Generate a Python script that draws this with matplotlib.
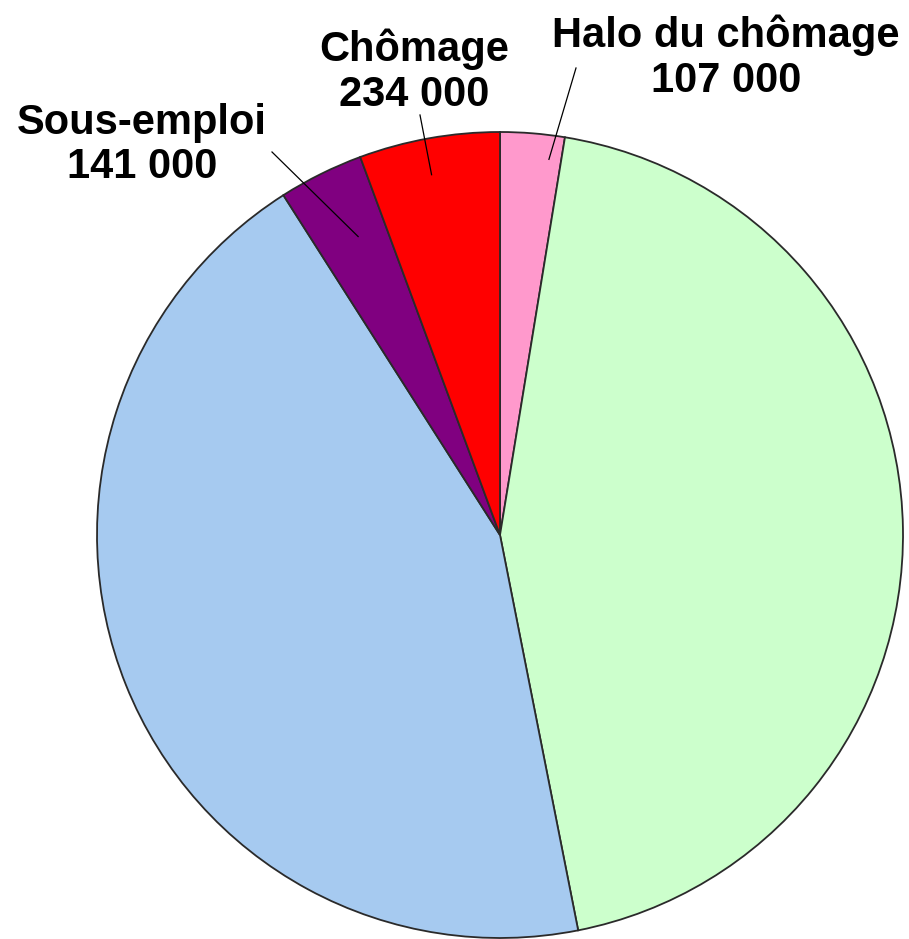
import numpy as np
import matplotlib.pyplot as plt

plt.rcParams['font.family'] = ['Liberation Sans', 'DejaVu Sans']

# slices, clockwise from the top
names = ['Halo du chômage', 'Emploi', 'Inactivité', 'Sous-emploi', 'Chômage']
values = [107000, 1840000, 1830000, 141000, 234000]
colors = ['#FF99CC', '#CCFFCC', '#A6CAF0', '#800080', '#FF0000']
shown = [True, False, False, True, True]


def fmt(v):
    return f"{v:,}".replace(",", " ")


fig = plt.figure(figsize=(9.09, 9.39), dpi=100)
ax = fig.add_axes([0, 0, 1, 1])

cx, cy, R = 500, 404, 403
wedges, _ = ax.pie(values, colors=colors, startangle=90, counterclock=False,
                   center=(cx, cy), radius=R, frame=True,
                   wedgeprops=dict(edgecolor='#2a2a2a', linewidth=1.3))
ax.set_xlim(0, 909)
ax.set_ylim(0, 939)
ax.axis('off')

# label text position, leader end, and where the leader touches the wedge
label_pos = {'Halo du chômage': (726, 881), 'Chômage': (414, 867), 'Sous-emploi': (142, 794)}
leader_end = {'Halo du chômage': (576, 871), 'Chômage': (420, 824), 'Sous-emploi': (272, 787)}
leader_in = {'Halo du chômage': (0.8, 0.94), 'Chômage': (0.47, 0.91), 'Sous-emploi': (0.58, 0.82)}

for w, name, v, s in zip(wedges, names, values, shown):
    if not s:
        continue
    f, rf = leader_in[name]
    ang = np.deg2rad(w.theta2 - f * (w.theta2 - w.theta1))
    px = cx + rf * R * np.cos(ang)
    py = cy + rf * R * np.sin(ang)
    ex, ey = leader_end[name]
    ax.plot([px, ex], [py, ey], color='black', linewidth=0.9)
    tx, ty = label_pos[name]
    ax.text(tx, ty, f"{name}\n{fmt(v)}", ha='center', va='center',
            fontsize=30, fontweight='bold', linespacing=1.15)

fig.savefig('out.png', dpi=100)
